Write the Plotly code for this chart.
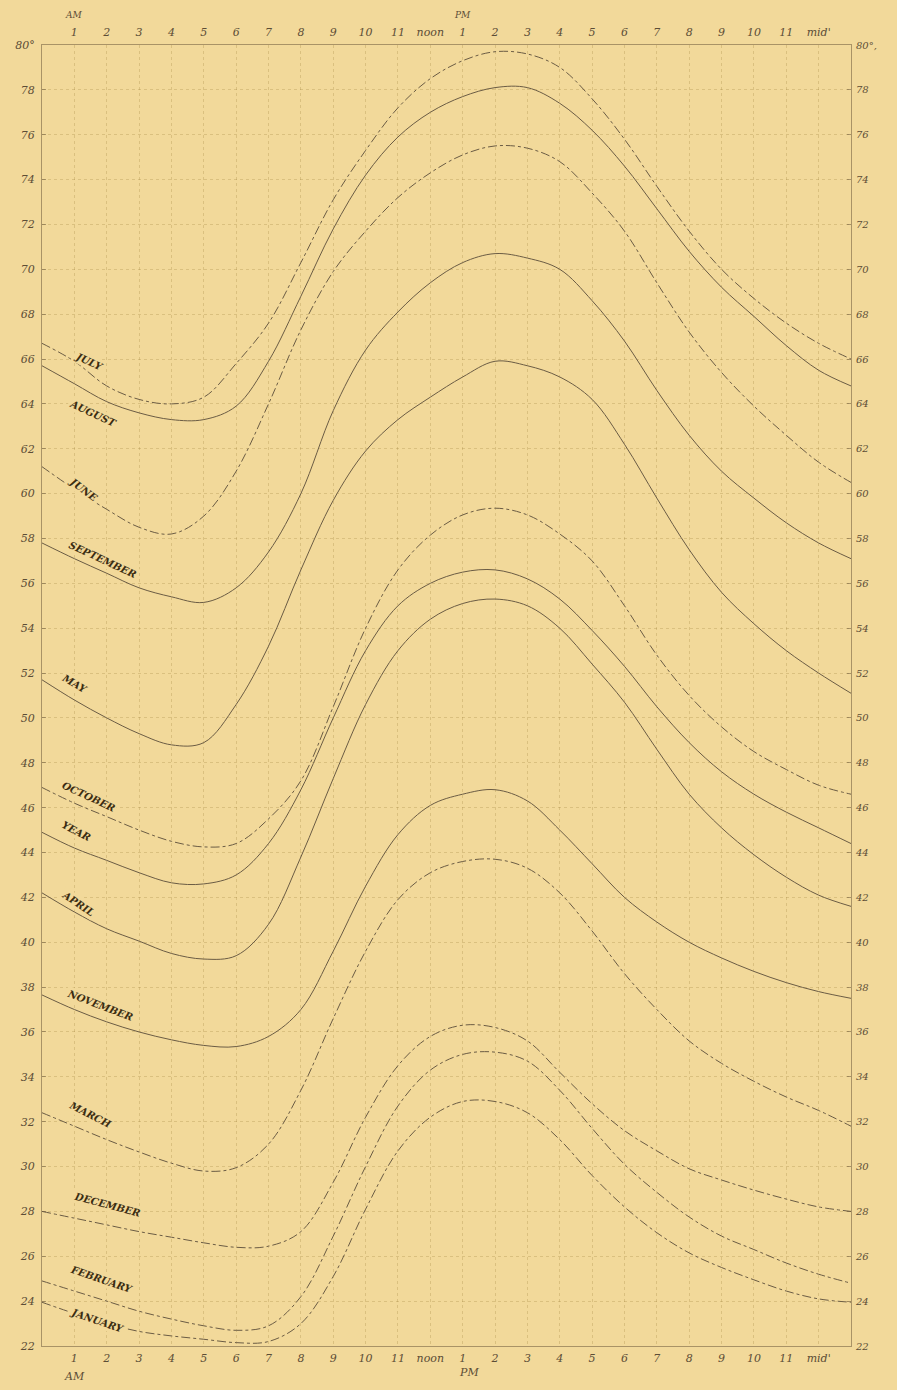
import numpy as np
import plotly.graph_objects as go

# hour of day, 0 = midnight ... 25 = 1 AM next day (right frame)
hours = list(range(26))

july = [66.7, 65.9, 64.8, 64.2, 64.0, 64.3, 65.8, 67.6, 70.3, 73.1, 75.3, 77.2, 78.5,
        79.3, 79.7, 79.6, 79.0, 77.6, 75.8, 73.7, 71.7, 70.0, 68.7, 67.6, 66.7, 66.0]
august = [65.7, 64.9, 64.1, 63.6, 63.3, 63.3, 63.9, 65.9, 68.8, 71.8, 74.2, 75.9, 77.0,
          77.7, 78.1, 78.1, 77.4, 76.2, 74.6, 72.7, 70.8, 69.2, 67.9, 66.6, 65.5, 64.8]
june = [61.2, 60.2, 59.3, 58.5, 58.2, 59.0, 61.0, 64.0, 67.3, 69.9, 71.7, 73.2, 74.3,
        75.1, 75.5, 75.4, 74.8, 73.4, 71.7, 69.4, 67.2, 65.4, 63.9, 62.6, 61.4, 60.5]
september = [57.8, 57.1, 56.45, 55.8, 55.4, 55.15, 55.8, 57.4, 60.0, 63.7, 66.4, 68.1, 69.4,
             70.3, 70.7, 70.5, 70.0, 68.6, 66.8, 64.6, 62.6, 61.0, 59.8, 58.7, 57.8, 57.1]
may = [51.7, 50.8, 50.0, 49.3, 48.8, 48.9, 50.6, 53.2, 56.6, 59.7, 61.9, 63.3, 64.3,
       65.2, 65.9, 65.7, 65.2, 64.2, 62.2, 59.8, 57.5, 55.6, 54.2, 53.0, 52.0, 51.1]
october = [46.9, 46.2, 45.6, 45.0, 44.5, 44.25, 44.4, 45.5, 47.2, 50.5, 54.0, 56.6, 58.15,
           59.05, 59.35, 59.05, 58.2, 57.0, 55.0, 52.8, 51.0, 49.6, 48.5, 47.7, 47.0, 46.6]
year = [44.9, 44.2, 43.65, 43.1, 42.65, 42.6, 43.0, 44.4, 46.8, 50.0, 53.0, 55.0, 56.0,
        56.5, 56.6, 56.2, 55.3, 53.9, 52.3, 50.5, 48.9, 47.6, 46.6, 45.8, 45.1, 44.4]
april = [42.2, 41.35, 40.6, 40.05, 39.5, 39.25, 39.4, 40.8, 43.8, 47.3, 50.6, 53.0, 54.4,
         55.1, 55.3, 55.0, 54.0, 52.4, 50.7, 48.6, 46.6, 45.1, 43.9, 42.9, 42.1, 41.6]
november = [37.65, 37.0, 36.45, 36.0, 35.65, 35.4, 35.35, 35.8, 37.0, 39.6, 42.5, 44.8, 46.1,
            46.6, 46.8, 46.3, 45.0, 43.5, 42.0, 40.9, 40.0, 39.3, 38.7, 38.2, 37.8, 37.5]
march = [32.4, 31.8, 31.2, 30.65, 30.15, 29.8, 29.95, 31.0, 33.4, 36.6, 39.6, 41.9, 43.1,
         43.6, 43.7, 43.3, 42.2, 40.5, 38.6, 37.0, 35.6, 34.6, 33.8, 33.1, 32.5, 31.8]
december = [28.0, 27.7, 27.4, 27.1, 26.85, 26.6, 26.4, 26.45, 27.1, 29.3, 32.2, 34.5, 35.8,
            36.3, 36.2, 35.6, 34.2, 32.8, 31.6, 30.7, 29.9, 29.4, 28.95, 28.55, 28.2, 28.0]
february = [24.9, 24.45, 24.0, 23.55, 23.2, 22.9, 22.7, 22.9, 24.2, 26.9, 30.0, 32.7, 34.3,
            35.0, 35.1, 34.7, 33.4, 31.7, 30.1, 28.85, 27.75, 26.9, 26.3, 25.7, 25.2, 24.8]
january = [23.95, 23.45, 23.0, 22.65, 22.45, 22.3, 22.15, 22.2, 23.0, 25.1, 28.1, 30.7, 32.2,
           32.9, 32.9, 32.4, 31.2, 29.6, 28.2, 27.05, 26.15, 25.5, 24.95, 24.45, 24.1, 23.95]

month_names = ["JULY", "AUGUST", "JUNE", "SEPTEMBER", "MAY", "OCTOBER", "YEAR",
               "APRIL", "NOVEMBER", "MARCH", "DECEMBER", "FEBRUARY", "JANUARY"]
series = [july, august, june, september, may, october, year,
          april, november, march, december, february, january]
dashes = ["dashdot", "solid", "dashdot", "solid", "solid", "dashdot", "solid",
          "solid", "solid", "dashdot", "dashdot", "dashdot", "dashdot"]
# label anchor: hour along curve, offset in degrees, rotation
label_hour = [1.45, 1.58, 1.28, 1.86, 1.0, 1.43, 1.08, 1.11, 1.8, 1.48, 2.0, 1.85, 1.7]
label_off = [0.5, -0.85, 0.25, 0.5, 0.75, 0.55, 0.8, 0.45, 0.6, 0.8, 0.9, 0.9, 0.0]
label_ang = [25, 25, 37, 25, 30, 25, 28, 34, 21, 27, 15, 19, 19]

xticks = list(range(1, 25))
xticktext = [str(i) for i in range(1, 12)] + ["noon"] + [str(i) for i in range(1, 12)] + ["mid'"]
yticks = list(range(22, 81, 2))
yticktext_left = [str(v) for v in range(22, 80, 2)] + ["80°"]
yticktext_right = [str(v) for v in range(22, 80, 2)] + ["80°,"]

BG = "#F2D99A"
INK = "#5c4d36"
LINE = "#6b5c44"

fig = go.Figure()
for i, (name, vals) in enumerate(zip(month_names, series)):
    fig.add_trace(go.Scatter(
        x=hours, y=vals, mode="lines", name=name,
        line=dict(color=LINE, width=1, dash=dashes[i], shape="spline", smoothing=1.0),
        xaxis="x" if i < len(series) - 1 else "x2",
        yaxis="y" if i < len(series) - 1 else "y2",
        showlegend=False,
    ))

for i, (name, vals) in enumerate(zip(month_names, series)):
    yv = float(np.interp(label_hour[i], hours, vals)) + label_off[i]
    fig.add_annotation(
        x=label_hour[i], y=yv, xref="x", yref="y", text=f"<b><i>{name}</i></b>",
        showarrow=False, textangle=label_ang[i],
        font=dict(family="DejaVu Serif", size=10, color="#3b2d12"),
        bgcolor=BG,
    )

for txt, hx, ys in [("AM", 1, 30), ("PM", 13, 30)]:
    fig.add_annotation(x=hx, y=1, xref="x", yref="paper", yshift=ys, text=f"<i>{txt}</i>",
                       showarrow=False, yanchor="middle",
                       font=dict(family="DejaVu Serif", size=9, color=INK))
for txt, hx, ys in [("AM", 1, -30), ("PM", 13.2, -26)]:
    fig.add_annotation(x=hx, y=0, xref="x", yref="paper", yshift=ys, text=f"<i>{txt}</i>",
                       showarrow=False, yanchor="middle",
                       font=dict(family="DejaVu Serif", size=11, color=INK))

tickfont = dict(family="DejaVu Serif", size=11, color=INK, style="italic")
grid = "rgba(150,115,50,0.13)"
common_x = dict(range=[0, 25], tickmode="array", tickvals=xticks, ticktext=xticktext,
                tickfont=tickfont, showgrid=True, gridcolor=grid, griddash="dot",
                zeroline=False, showline=True, linecolor="rgba(110,90,60,0.55)",
                ticks="", fixedrange=True, automargin=False)
common_y = dict(range=[22, 80], tickmode="array", tickvals=yticks,
                showgrid=True, gridcolor=grid, griddash="dot",
                zeroline=False, showline=True, linecolor="rgba(110,90,60,0.55)",
                ticks="inside", ticklen=4, tickcolor="rgba(110,90,60,0.55)",
                fixedrange=True, automargin=False)

fig.update_layout(
    width=897, height=1390,
    margin=dict(l=42, r=46, t=45, b=44),
    paper_bgcolor=BG, plot_bgcolor=BG,
    xaxis=dict(**common_x, side="bottom", ticklabelstandoff=2),
    xaxis2=dict(**common_x, side="top", overlaying="x", ticklabelstandoff=4),
    yaxis=dict(**common_y, side="left", ticktext=yticktext_left, ticklabelstandoff=4,
               tickfont=tickfont),
    yaxis2=dict(**common_y, side="right", overlaying="y", ticktext=yticktext_right,
                ticklabelstandoff=2, tickfont=dict(tickfont, size=10)),
)

fig.write_html(
    "out.html",
    config={"displayModeBar": False},
    post_script="document.body.style.margin='0';document.body.style.background='" + BG + "';",
)
